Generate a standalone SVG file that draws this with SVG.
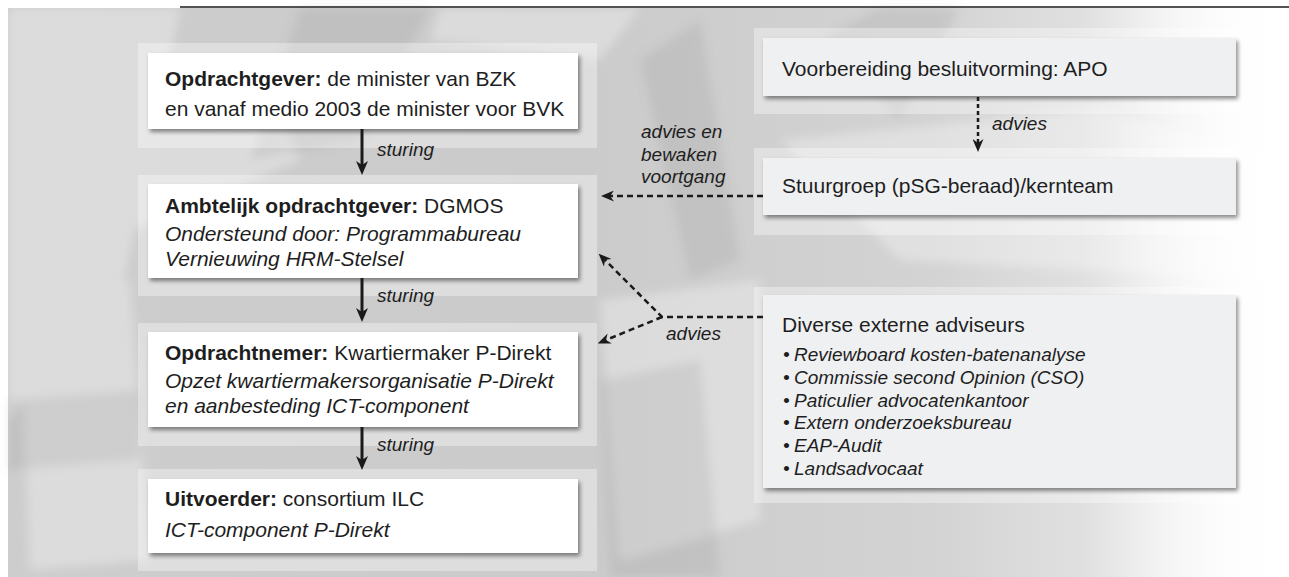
<svg xmlns="http://www.w3.org/2000/svg" width="1289" height="577" viewBox="0 0 1289 577">
<defs>
<linearGradient id="bg" x1="0" y1="0" x2="1" y2="0">
<stop offset="0" stop-color="#cdcdcd"/>
<stop offset="0.45" stop-color="#cbcbcb"/>
<stop offset="0.72" stop-color="#d3d3d3"/>
<stop offset="0.86" stop-color="#e2e2e2"/>
<stop offset="0.95" stop-color="#f7f7f7"/>
<stop offset="1" stop-color="#ffffff"/>
</linearGradient>
<linearGradient id="fadeR" x1="0" y1="0" x2="1" y2="0">
<stop offset="0" stop-color="#ffffff" stop-opacity="0"/>
<stop offset="1" stop-color="#ffffff" stop-opacity="1"/>
</linearGradient>
<filter id="blur" x="-10%" y="-10%" width="120%" height="120%">
<feGaussianBlur stdDeviation="5"/>
</filter>
<filter id="sh" x="-5%" y="-10%" width="112%" height="130%">
<feDropShadow dx="2" dy="3" stdDeviation="2" flood-color="#000" flood-opacity="0.45"/>
</filter>
<marker id="ah" viewBox="0 0 14 12" refX="4" refY="6" markerWidth="14" markerHeight="12" markerUnits="userSpaceOnUse" orient="auto">
<path d="M0,0 L14,6 L0,12 L4,6 z" fill="#1a1a1a"/>
</marker>
<marker id="ahd" viewBox="0 0 13 11" refX="4" refY="5.5" markerWidth="13" markerHeight="11" markerUnits="userSpaceOnUse" orient="auto">
<path d="M0,0 L13,5.5 L0,11 L4,5.5 z" fill="#1a1a1a"/>
</marker>
<style>
.panel{fill:#ffffff;fill-opacity:0.35}
.boxw{fill:#ffffff;filter:url(#sh)}
.boxg{fill:#eff0f2;filter:url(#sh)}
.t{font-family:"Liberation Sans",Arial,sans-serif;font-size:21px;fill:#1e1e1e}
.b{font-weight:bold}
.i{font-style:italic}
.lab{font-family:"Liberation Sans",Arial,sans-serif;font-size:19px;font-style:italic;fill:#1e1e1e}
.bul{font-family:"Liberation Sans",Arial,sans-serif;font-size:19px;font-style:italic;fill:#1e1e1e}
.solid{stroke:#1a1a1a;stroke-width:3;fill:none}
.dash{stroke:#1a1a1a;stroke-width:2.5;fill:none;stroke-dasharray:6 4}
.dot{stroke:#1a1a1a;stroke-width:2.5;fill:none;stroke-dasharray:4 3}
</style>
</defs>

<g id="background">
<rect x="0" y="0" width="1289" height="577" fill="#ffffff"/>
<rect x="8" y="8" width="1281" height="569" fill="url(#bg)"/>
<g filter="url(#blur)">
<g opacity="0.3" fill="#ffffff">
<polygon points="8,8 180,8 120,300 8,420"/>
<polygon points="60,120 250,60 300,160 110,240"/>
<polygon points="20,300 130,280 150,560 30,570"/>
<polygon points="600,300 760,280 760,520 620,560"/>
<polygon points="780,140 1100,110 1289,160 1289,280 900,260"/>
<polygon points="440,8 640,8 600,60 430,40"/>
</g>
<g opacity="0.14" fill="#777777">
<polygon points="300,8 430,8 360,140 250,160"/>
<polygon points="640,60 700,20 740,260 690,280"/>
<polygon points="8,400 140,390 140,460 8,470"/>
<polygon points="820,40 880,8 960,8 900,120"/>
<polygon points="600,380 700,360 720,577 610,577"/>
</g>
</g>
<rect x="1080" y="8" width="209" height="569" fill="url(#fadeR)"/>
</g>

<line x1="180" y1="7" x2="1289" y2="7" stroke="#1a1a1a" stroke-width="1.5"/>

<g id="opdrachtgever">
<rect class="panel" x="138" y="43" width="459" height="105"/>
<rect class="boxw" x="148" y="53" width="430" height="76"/>
<text class="t" x="165" y="86"><tspan class="b">Opdrachtgever:</tspan> de minister van BZK</text>
<text class="t" x="165" y="116">en vanaf medio 2003 de minister voor BVK</text>
</g>

<g id="ambtelijk">
<rect class="panel" x="138" y="175" width="459" height="121"/>
<rect class="boxw" x="148" y="184" width="430" height="94"/>
<text class="t" x="165" y="213"><tspan class="b">Ambtelijk opdrachtgever:</tspan> DGMOS</text>
<text class="t i" x="165" y="241">Ondersteund door: Programmabureau</text>
<text class="t i" x="165" y="266">Vernieuwing HRM-Stelsel</text>
</g>

<g id="opdrachtnemer">
<rect class="panel" x="138" y="323" width="459" height="123"/>
<rect class="boxw" x="148" y="332" width="430" height="95"/>
<text class="t" x="165" y="360"><tspan class="b">Opdrachtnemer:</tspan> Kwartiermaker P-Direkt</text>
<text class="t i" x="165" y="388">Opzet kwartiermakersorganisatie P-Direkt</text>
<text class="t i" x="165" y="413">en aanbesteding ICT-component</text>
</g>

<g id="uitvoerder">
<rect class="panel" x="138" y="469" width="459" height="102"/>
<rect class="boxw" x="148" y="479" width="430" height="74"/>
<text class="t" x="165" y="506"><tspan class="b">Uitvoerder:</tspan> consortium ILC</text>
<text class="t i" x="165" y="537">ICT-component P-Direkt</text>
</g>

<g id="voorbereiding">
<rect class="panel" x="754" y="28" width="489" height="86"/>
<rect class="boxg" x="763" y="38" width="473" height="58"/>
<text class="t" x="782" y="76">Voorbereiding besluitvorming: APO</text>
</g>

<g id="stuurgroep">
<rect class="panel" x="754" y="148" width="489" height="87"/>
<rect class="boxg" x="763" y="158" width="473" height="57"/>
<text class="t" x="782" y="193">Stuurgroep (pSG-beraad)/kernteam</text>
</g>

<g id="adviseurs">
<rect class="panel" x="754" y="287" width="489" height="216"/>
<rect class="boxg" x="763" y="295" width="473" height="193"/>
<text class="t" x="782" y="332">Diverse externe adviseurs</text>
<text class="bul" y="361"><tspan x="783">•</tspan><tspan x="794">Reviewboard kosten-batenanalyse</tspan></text>
<text class="bul" y="384"><tspan x="783">•</tspan><tspan x="794">Commissie second Opinion (CSO)</tspan></text>
<text class="bul" y="407"><tspan x="783">•</tspan><tspan x="794">Paticulier advocatenkantoor</tspan></text>
<text class="bul" y="429"><tspan x="783">•</tspan><tspan x="794">Extern onderzoeksbureau</tspan></text>
<text class="bul" y="452"><tspan x="783">•</tspan><tspan x="794">EAP-Audit</tspan></text>
<text class="bul" y="475"><tspan x="783">•</tspan><tspan x="794">Landsadvocaat</tspan></text>
</g>

<g id="connectors">
<line class="solid" x1="362" y1="129" x2="362" y2="165" marker-end="url(#ah)"/>
<text class="lab" x="377" y="156">sturing</text>
<line class="solid" x1="362" y1="278" x2="362" y2="312" marker-end="url(#ah)"/>
<text class="lab" x="377" y="302">sturing</text>
<line class="solid" x1="362" y1="427" x2="362" y2="460" marker-end="url(#ah)"/>
<text class="lab" x="377" y="451">sturing</text>

<line class="dot" x1="978" y1="97" x2="978" y2="143" marker-end="url(#ahd)"/>
<text class="lab" x="992" y="130">advies</text>

<line class="dash" x1="763" y1="196" x2="610" y2="196" marker-end="url(#ahd)"/>
<text class="lab" x="641" y="138">advies en</text>
<text class="lab" x="641" y="161">bewaken</text>
<text class="lab" x="641" y="183">voortgang</text>

<polyline class="dash" points="763,317 662,317 605,260" marker-end="url(#ahd)"/>
<line class="dash" x1="662" y1="317" x2="606" y2="340" marker-end="url(#ahd)"/>
<text class="lab" x="666" y="340">advies</text>
</g>
</svg>
